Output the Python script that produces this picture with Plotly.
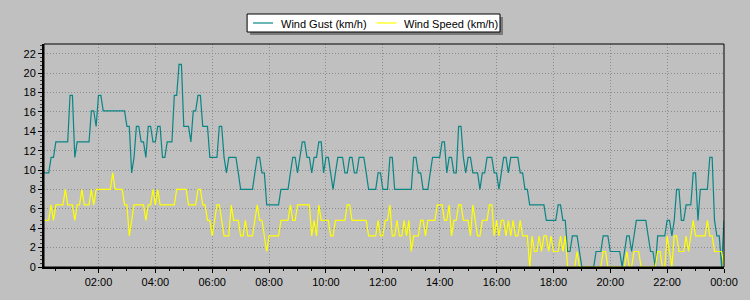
import pandas as pd
import plotly.graph_objects as go

# ---- data (km/h), 5-minute samples from 00:05 to 24:00 ----
series_names = ["Wind Gust (km/h)", "Wind Speed (km/h)"]
series_colors = ["#0a8585", "#ffff00"]

times = pd.date_range("2024-01-01 00:05", "2024-01-02 00:00", freq="5min")

wind_gust = [
    9.7, 9.7, 9.7, 11.3, 11.3, 12.9, 12.9, 12.9, 12.9, 12.9, 12.9,
    17.7, 17.7, 11.3, 12.9, 12.9, 12.9, 12.9, 12.9, 12.9, 16.1, 16.1, 14.5,
    17.7, 17.7, 16.1, 16.1, 16.1, 16.1, 16.1, 16.1, 16.1, 16.1, 16.1, 16.1,
    14.5, 14.5, 9.7, 11.3, 14.5, 14.5, 12.9, 12.9, 11.3, 14.5, 14.5, 12.9,
    12.9, 14.5, 14.5, 11.3, 11.3, 12.9, 12.9, 12.9, 17.7, 17.7, 20.9, 20.9,
    14.5, 14.5, 14.5, 12.9, 16.1, 16.1, 17.7, 17.7, 14.5, 14.5, 14.5, 11.3,
    11.3, 11.3, 11.3, 14.5, 14.5, 11.3, 9.7, 11.3, 11.3, 11.3, 11.3, 9.7,
    8.0, 8.0, 8.0, 8.0, 8.0, 8.0, 9.7, 11.3, 11.3, 9.7, 9.7, 6.4,
    6.4, 6.4, 6.4, 6.4, 6.4, 8.0, 8.0, 8.0, 8.0, 9.7, 11.3, 11.3,
    9.7, 11.3, 12.9, 12.9, 11.3, 11.3, 9.7, 11.3, 11.3, 12.9, 12.9, 9.7,
    11.3, 11.3, 9.7, 8.0, 9.7, 11.3, 11.3, 11.3, 9.7, 9.7, 11.3, 11.3,
    9.7, 9.7, 11.3, 11.3, 11.3, 9.7, 8.0, 8.0, 8.0, 8.0, 9.7, 9.7,
    8.0, 8.0, 8.0, 11.3, 11.3, 8.0, 8.0, 8.0, 8.0, 8.0, 8.0, 8.0,
    8.0, 11.3, 11.3, 9.7, 9.7, 8.0, 8.0, 8.0, 9.7, 11.3, 11.3, 11.3,
    11.3, 12.9, 12.9, 9.7, 11.3, 11.3, 9.7, 9.7, 14.5, 14.5, 11.3, 9.7,
    11.3, 11.3, 9.7, 9.7, 9.7, 8.0, 9.7, 9.7, 11.3, 11.3, 11.3, 9.7,
    9.7, 8.0, 9.7, 11.3, 11.3, 9.7, 11.3, 11.3, 11.3, 11.3, 9.7, 9.7,
    8.0, 8.0, 6.4, 6.4, 6.4, 6.4, 6.4, 6.4, 6.4, 4.8, 4.8, 4.8,
    4.8, 4.8, 6.4, 6.4, 4.8, 4.8, 1.6, 1.6, 3.2, 3.2, 3.2, 1.6,
    0.0, 0.0, 0.0, 0.0, 0.0, 0.0, 1.6, 1.6, 1.6, 3.2, 3.2, 3.2,
    1.6, 1.6, 1.6, 1.6, 1.6, 0.0, 1.6, 3.2, 3.2, 1.6, 3.2, 4.8,
    4.8, 4.8, 4.8, 4.8, 3.2, 1.6, 1.6, 0.0, 3.2, 3.2, 3.2, 3.2,
    4.8, 4.8, 3.2, 4.8, 8.0, 8.0, 4.8, 4.8, 6.4, 6.4, 6.4, 9.7,
    9.7, 4.8, 8.0, 8.0, 8.0, 8.0, 11.3, 11.3, 4.8, 3.2, 3.2, 0.0,
    4.8,
]

wind_speed = [
    4.8, 4.8, 4.8, 6.4, 4.8, 6.4, 6.4, 6.4, 6.4, 8.0, 6.4,
    6.4, 6.4, 4.8, 6.4, 6.4, 8.0, 6.4, 6.4, 6.4, 8.0, 6.4, 8.0,
    8.0, 8.0, 8.0, 8.0, 8.0, 8.0, 9.7, 8.0, 8.0, 8.0, 8.0, 6.4,
    6.4, 3.2, 4.8, 6.4, 6.4, 6.4, 6.4, 6.4, 4.8, 6.4, 6.4, 8.0,
    6.4, 8.0, 6.4, 6.4, 6.4, 6.4, 6.4, 6.4, 6.4, 8.0, 8.0, 8.0,
    8.0, 8.0, 6.4, 6.4, 6.4, 6.4, 8.0, 8.0, 6.4, 6.4, 4.8, 4.8,
    3.2, 4.8, 6.4, 6.4, 4.8, 3.2, 3.2, 3.2, 6.4, 4.8, 4.8, 4.8,
    3.2, 3.2, 4.8, 3.2, 3.2, 3.2, 4.8, 6.4, 4.8, 4.8, 3.2, 1.6,
    3.2, 3.2, 3.2, 3.2, 3.2, 4.8, 4.8, 4.8, 4.8, 6.4, 4.8, 4.8,
    6.4, 6.4, 6.4, 6.4, 6.4, 6.4, 3.2, 4.8, 3.2, 6.4, 4.8, 4.8,
    4.8, 4.8, 3.2, 3.2, 4.8, 4.8, 4.8, 4.8, 4.8, 6.4, 6.4, 4.8,
    4.8, 4.8, 4.8, 4.8, 4.8, 4.8, 3.2, 3.2, 3.2, 3.2, 4.8, 3.2,
    3.2, 4.8, 4.8, 6.4, 3.2, 3.2, 4.8, 3.2, 3.2, 4.8, 3.2, 4.8,
    1.6, 3.2, 3.2, 3.2, 4.8, 4.8, 3.2, 4.8, 4.8, 4.8, 4.8, 6.4,
    6.4, 6.4, 4.8, 4.8, 6.4, 3.2, 4.8, 4.8, 6.4, 6.4, 4.8, 4.8,
    4.8, 3.2, 6.4, 4.8, 3.2, 3.2, 4.8, 4.8, 4.8, 6.4, 6.4, 3.2,
    4.8, 3.2, 4.8, 4.8, 3.2, 4.8, 3.2, 4.8, 3.2, 3.2, 4.8, 3.2,
    3.2, 3.2, 0.0, 3.2, 1.6, 1.6, 3.2, 1.6, 3.2, 3.2, 1.6, 3.2,
    1.6, 1.6, 1.6, 3.2, 1.6, 3.2, 0.0, 0.0, 0.0, 0.0, 1.6, 0.0,
    0.0, 0.0, 0.0, 0.0, 0.0, 0.0, 0.0, 0.0, 0.0, 1.6, 1.6, 0.0,
    0.0, 0.0, 0.0, 0.0, 0.0, 0.0, 0.0, 1.6, 0.0, 0.0, 1.6, 1.6,
    1.6, 0.0, 0.0, 0.0, 0.0, 0.0, 0.0, 0.0, 1.6, 1.6, 0.0, 0.0,
    3.2, 1.6, 0.0, 3.2, 3.2, 1.6, 1.6, 1.6, 3.2, 1.6, 3.2, 4.8,
    3.2, 3.2, 3.2, 3.2, 3.2, 4.8, 3.2, 3.2, 1.6, 1.6, 1.6, 1.6,
    0.0,
]

y_ticks = [0, 2, 4, 6, 8, 10, 12, 14, 16, 18, 20, 22]

assert len(wind_gust) == len(times) == len(wind_speed)

# ---- geometry helpers (pixel -> paper) ----
W, H = 750, 300
L, R, T, B = 44, 727, 44, 267


def px(x):
    return (x - L) / (R - L)


def py(y):
    return (B - y) / (B - T)


FONT = "Liberation Sans, Arial, sans-serif"
BG = "#c0c0c0"
GRID_DASH = "1px,2px"

fig = go.Figure()
for name, vals, col in zip(series_names, [wind_gust, wind_speed], series_colors):
    fig.add_trace(go.Scatter(x=times, y=vals, mode="lines", name=name,
                             line=dict(color=col, width=1.2)))

shapes = [
    # plot frame (thin top/right)
    dict(type="rect", xref="paper", yref="paper", x0=0, x1=1, y0=0, y1=1,
         line=dict(color="black", width=1), layer="above"),
    # legend shadow
    dict(type="rect", xref="paper", yref="paper", x0=px(251), x1=px(505),
         y0=py(17), y1=py(35), fillcolor="#7a7a7a", line=dict(width=0)),
    # legend box
    dict(type="rect", xref="paper", yref="paper", x0=px(248), x1=px(502),
         y0=py(14), y1=py(32), fillcolor="white",
         line=dict(color="black", width=1)),
]
annotations = []
legend_items = [(254, 280), (378, 404)]
for (lx, tx), name, col in zip(legend_items, series_names, series_colors):
    shapes.append(dict(type="line", xref="paper", yref="paper",
                       x0=px(lx), x1=px(lx + 20), y0=py(23), y1=py(23),
                       line=dict(color=col, width=1.2)))
    annotations.append(dict(xref="paper", yref="paper", x=px(tx), y=py(23.5),
                            xanchor="left", yanchor="middle", showarrow=False,
                            text=name, font=dict(family=FONT, size=11, color="black")))

fig.update_layout(
    width=W, height=H,
    margin=dict(l=L, r=W - R, t=T, b=H - B, pad=0),
    paper_bgcolor=BG, plot_bgcolor=BG,
    showlegend=False,
    shapes=shapes, annotations=annotations,
    font=dict(family=FONT, size=11, color="black"),
)

fig.update_xaxes(
    type="date",
    range=["2024-01-01 00:05", "2024-01-02 00:00"],
    tick0="2024-01-01 00:00", dtick=2 * 3600 * 1000,
    tickformat="%H:%M",
    ticks="outside", ticklen=4, tickcolor="black", tickwidth=1,
    showgrid=True, gridcolor="#8c8c8c", griddash=GRID_DASH, gridwidth=1,
    showline=True, linecolor="black", linewidth=2,
    zeroline=False,
    minor=dict(dtick=30 * 60 * 1000, ticks="outside", ticklen=2,
               tickcolor="black", showgrid=False),
    tickfont=dict(family=FONT, size=11, color="black"),
)
fig.update_yaxes(
    range=[0, 23],
    tickmode="array", tickvals=y_ticks, ticktext=[str(v) for v in y_ticks],
    ticks="outside", ticklen=4, tickcolor="black", tickwidth=1,
    showgrid=True, gridcolor="#8c8c8c", griddash=GRID_DASH, gridwidth=1,
    showline=True, linecolor="black", linewidth=2,
    zeroline=False,
    minor=dict(dtick=0.4, tick0=0, ticks="outside", ticklen=2,
               tickcolor="#404040", showgrid=False),
    tickfont=dict(family=FONT, size=11, color="black"),
)

fig.write_html("out.html")
